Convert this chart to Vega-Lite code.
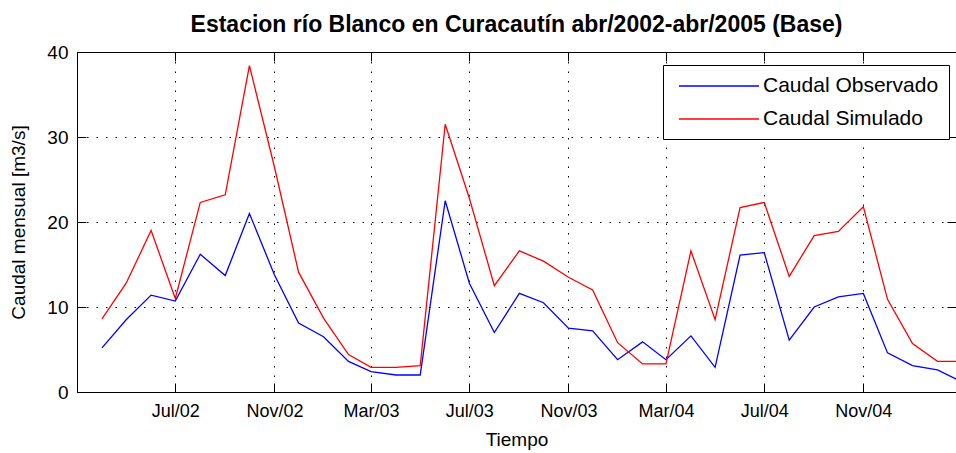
{
  "$schema": "https://vega.github.io/schema/vega-lite/v6.json",
  "width": 879,
  "height": 340,
  "autosize": "none",
  "padding": {"left": 77, "top": 52, "right": 0, "bottom": 61},
  "background": "white",
  "config": {
    "font": "Liberation Sans",
    "view": {"stroke": "#000"},
    "axis": {
      "domain": false,
      "labelColor": "#000",
      "titleColor": "#000",
      "tickColor": "#000",
      "tickWidth": 1,
      "labelFont": "Liberation Sans",
      "titleFont": "Liberation Sans",
      "titleFontWeight": "normal",
      "gridColor": "#000",
      "gridDash": [1.5, 8],
      "gridOpacity": 1
    }
  },
  "title": {
    "text": "Estacion río Blanco en Curacautín abr/2002-abr/2005 (Base)",
    "font": "Liberation Sans",
    "fontSize": 23,
    "fontWeight": "bold",
    "color": "#000",
    "anchor": "middle",
    "offset": 6
  },
  "data": {
    "values": [
      {"fecha": "2002-04-01", "serie": "Caudal Observado", "caudal": 5.2},
      {"fecha": "2002-05-01", "serie": "Caudal Observado", "caudal": 8.5},
      {"fecha": "2002-06-01", "serie": "Caudal Observado", "caudal": 11.4},
      {"fecha": "2002-07-01", "serie": "Caudal Observado", "caudal": 10.7},
      {"fecha": "2002-08-01", "serie": "Caudal Observado", "caudal": 16.2},
      {"fecha": "2002-09-01", "serie": "Caudal Observado", "caudal": 13.7},
      {"fecha": "2002-10-01", "serie": "Caudal Observado", "caudal": 21.0},
      {"fecha": "2002-11-01", "serie": "Caudal Observado", "caudal": 13.8},
      {"fecha": "2002-12-01", "serie": "Caudal Observado", "caudal": 8.1},
      {"fecha": "2003-01-01", "serie": "Caudal Observado", "caudal": 6.5},
      {"fecha": "2003-02-01", "serie": "Caudal Observado", "caudal": 3.6},
      {"fecha": "2003-03-01", "serie": "Caudal Observado", "caudal": 2.4},
      {"fecha": "2003-04-01", "serie": "Caudal Observado", "caudal": 2.0},
      {"fecha": "2003-05-01", "serie": "Caudal Observado", "caudal": 2.0},
      {"fecha": "2003-06-01", "serie": "Caudal Observado", "caudal": 22.5},
      {"fecha": "2003-07-01", "serie": "Caudal Observado", "caudal": 12.8},
      {"fecha": "2003-08-01", "serie": "Caudal Observado", "caudal": 7.0},
      {"fecha": "2003-09-01", "serie": "Caudal Observado", "caudal": 11.6},
      {"fecha": "2003-10-01", "serie": "Caudal Observado", "caudal": 10.5},
      {"fecha": "2003-11-01", "serie": "Caudal Observado", "caudal": 7.5},
      {"fecha": "2003-12-01", "serie": "Caudal Observado", "caudal": 7.2},
      {"fecha": "2004-01-01", "serie": "Caudal Observado", "caudal": 3.8},
      {"fecha": "2004-02-01", "serie": "Caudal Observado", "caudal": 5.9},
      {"fecha": "2004-03-01", "serie": "Caudal Observado", "caudal": 3.8},
      {"fecha": "2004-04-01", "serie": "Caudal Observado", "caudal": 6.6},
      {"fecha": "2004-05-01", "serie": "Caudal Observado", "caudal": 2.9},
      {"fecha": "2004-06-01", "serie": "Caudal Observado", "caudal": 16.1},
      {"fecha": "2004-07-01", "serie": "Caudal Observado", "caudal": 16.4},
      {"fecha": "2004-08-01", "serie": "Caudal Observado", "caudal": 6.1},
      {"fecha": "2004-09-01", "serie": "Caudal Observado", "caudal": 10.0},
      {"fecha": "2004-10-01", "serie": "Caudal Observado", "caudal": 11.2},
      {"fecha": "2004-11-01", "serie": "Caudal Observado", "caudal": 11.6},
      {"fecha": "2004-12-01", "serie": "Caudal Observado", "caudal": 4.6},
      {"fecha": "2005-01-01", "serie": "Caudal Observado", "caudal": 3.1},
      {"fecha": "2005-02-01", "serie": "Caudal Observado", "caudal": 2.6},
      {"fecha": "2005-03-01", "serie": "Caudal Observado", "caudal": 1.3},
      {"fecha": "2002-04-01", "serie": "Caudal Simulado", "caudal": 8.6},
      {"fecha": "2002-05-01", "serie": "Caudal Simulado", "caudal": 12.8},
      {"fecha": "2002-06-01", "serie": "Caudal Simulado", "caudal": 19.0},
      {"fecha": "2002-07-01", "serie": "Caudal Simulado", "caudal": 11.0},
      {"fecha": "2002-08-01", "serie": "Caudal Simulado", "caudal": 22.3},
      {"fecha": "2002-09-01", "serie": "Caudal Simulado", "caudal": 23.2},
      {"fecha": "2002-10-01", "serie": "Caudal Simulado", "caudal": 38.4},
      {"fecha": "2002-11-01", "serie": "Caudal Simulado", "caudal": 26.5},
      {"fecha": "2002-12-01", "serie": "Caudal Simulado", "caudal": 14.1},
      {"fecha": "2003-01-01", "serie": "Caudal Simulado", "caudal": 8.7},
      {"fecha": "2003-02-01", "serie": "Caudal Simulado", "caudal": 4.4},
      {"fecha": "2003-03-01", "serie": "Caudal Simulado", "caudal": 2.9},
      {"fecha": "2003-04-01", "serie": "Caudal Simulado", "caudal": 2.9},
      {"fecha": "2003-05-01", "serie": "Caudal Simulado", "caudal": 3.1},
      {"fecha": "2003-06-01", "serie": "Caudal Simulado", "caudal": 31.5},
      {"fecha": "2003-07-01", "serie": "Caudal Simulado", "caudal": 22.8},
      {"fecha": "2003-08-01", "serie": "Caudal Simulado", "caudal": 12.5},
      {"fecha": "2003-09-01", "serie": "Caudal Simulado", "caudal": 16.6},
      {"fecha": "2003-10-01", "serie": "Caudal Simulado", "caudal": 15.4},
      {"fecha": "2003-11-01", "serie": "Caudal Simulado", "caudal": 13.5},
      {"fecha": "2003-12-01", "serie": "Caudal Simulado", "caudal": 12.0},
      {"fecha": "2004-01-01", "serie": "Caudal Simulado", "caudal": 5.8},
      {"fecha": "2004-02-01", "serie": "Caudal Simulado", "caudal": 3.3},
      {"fecha": "2004-03-01", "serie": "Caudal Simulado", "caudal": 3.3},
      {"fecha": "2004-04-01", "serie": "Caudal Simulado", "caudal": 16.6},
      {"fecha": "2004-05-01", "serie": "Caudal Simulado", "caudal": 8.5},
      {"fecha": "2004-06-01", "serie": "Caudal Simulado", "caudal": 21.7},
      {"fecha": "2004-07-01", "serie": "Caudal Simulado", "caudal": 22.3},
      {"fecha": "2004-08-01", "serie": "Caudal Simulado", "caudal": 13.6},
      {"fecha": "2004-09-01", "serie": "Caudal Simulado", "caudal": 18.4},
      {"fecha": "2004-10-01", "serie": "Caudal Simulado", "caudal": 18.9},
      {"fecha": "2004-11-01", "serie": "Caudal Simulado", "caudal": 21.8},
      {"fecha": "2004-12-01", "serie": "Caudal Simulado", "caudal": 10.9},
      {"fecha": "2005-01-01", "serie": "Caudal Simulado", "caudal": 5.7},
      {"fecha": "2005-02-01", "serie": "Caudal Simulado", "caudal": 3.6},
      {"fecha": "2005-03-01", "serie": "Caudal Simulado", "caudal": 3.6}
    ]
  },
  "layer": [
    {
      "mark": {"type": "line", "strokeWidth": 1.3, "clip": true},
      "encoding": {
        "x": {
          "field": "fecha",
          "type": "temporal",
          "scale": {
            "type": "utc",
            "domain": [1014940800000, 1109203200000]
          },
          "axis": {
            "orient": "bottom",
            "title": "Tiempo",
            "titleFontSize": 19,
            "titlePadding": 10,
            "labelFontSize": 18,
            "labelPadding": 10,
            "offset": -9,
            "tickSize": 9,
            "format": "%b/%y",
            "labelFlush": false,
            "labelOverlap": false,
            "values": [1025481600000, 1036108800000, 1046476800000, 1057017600000, 1067644800000, 1078099200000, 1088640000000, 1099267200000],
            "grid": true
          }
        },
        "y": {
          "field": "caudal",
          "type": "quantitative",
          "scale": {"domain": [0, 40], "nice": false},
          "axis": {
            "orient": "left",
            "title": "Caudal mensual [m3/s]",
            "titleFontSize": 19,
            "titlePadding": 18,
            "labelFontSize": 19,
            "labelPadding": 9,
            "offset": -9,
            "tickSize": 9,
            "values": [0, 10, 20, 30, 40],
            "labelFlush": false,
            "grid": true
          }
        },
        "color": {
          "field": "serie",
          "type": "nominal",
          "scale": {
            "domain": ["Caudal Observado", "Caudal Simulado"],
            "range": ["#0000ff", "#ff0000"]
          },
          "legend": {
            "title": null,
            "orient": "none",
            "legendX": 586,
            "legendY": 13,
            "direction": "vertical",
            "symbolType": "M-4,0H4",
            "symbolSize": 400,
            "symbolOffset": 35,
            "symbolStrokeWidth": 1.3,
            "labelFontSize": 21,
            "labelFont": "Liberation Sans",
            "labelColor": "#000",
            "labelLimit": 400,
            "labelOffset": 33,
            "rowPadding": 12,
            "padding": 10,
            "strokeColor": "#000",
            "fillColor": "#fff"
          }
        }
      }
    },
    {
      "mark": {"type": "point", "opacity": 0},
      "encoding": {
        "x": {
          "field": "fecha",
          "type": "temporal",
          "axis": {
            "orient": "top",
            "title": null,
            "labels": false,
            "grid": false,
            "offset": -9,
            "tickSize": 9,
            "values": [1025481600000, 1036108800000, 1046476800000, 1057017600000, 1067644800000, 1078099200000, 1088640000000, 1099267200000]
          }
        },
        "y": {
          "field": "caudal",
          "type": "quantitative",
          "axis": {
            "orient": "right",
            "title": null,
            "labels": false,
            "grid": false,
            "offset": -9,
            "tickSize": 9,
            "values": [0, 10, 20, 30, 40]
          }
        }
      }
    }
  ],
  "resolve": {"axis": {"x": "independent", "y": "independent"}}
}
